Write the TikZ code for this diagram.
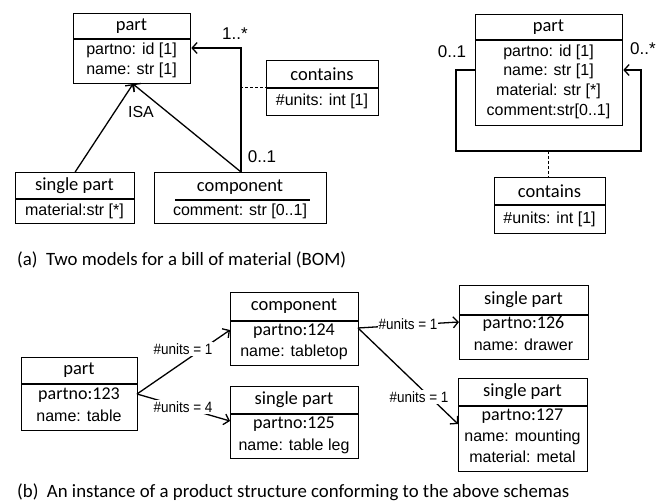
\documentclass[tikz,border=0pt]{standalone}
\usepackage{fontspec}
\setmainfont{Liberation Sans}
\newfontfamily\carl{Carlito}
\newfontfamily\ari{Liberation Sans}
\newfontfamily\arinar[FakeStretch=0.9]{Liberation Sans}
\usetikzlibrary{arrows.meta}
\begin{document}
\begin{tikzpicture}[x=1pt,y=-1pt,
  box/.style={draw,line width=1.3pt,inner sep=0pt,anchor=north west},
  hdr/.style={font=\carl\fontsize{18.5}{20}\selectfont,inner sep=0pt},
  att/.style={font=\ari\fontsize{16}{18}\selectfont,inner sep=0pt},
  pno/.style={font=\carl\fontsize{18}{20}\selectfont,inner sep=0pt},
  lbl/.style={font=\arinar\fontsize{15}{17}\selectfont,fill=white,inner sep=1pt},
  mult/.style={font=\ari\fontsize{17}{19}\selectfont,inner sep=0pt},
  captxt/.style={font=\carl\fontsize{18.8}{21}\selectfont,anchor=west,inner sep=0pt},
  conn/.style={line width=1.3pt,-{Straight Barb[length=5pt,width=11pt]}},
  sepl/.style={line width=1.3pt},
  dsh/.style={line width=1pt,dashed,dash pattern=on 3pt off 2pt},
]
\useasboundingbox (0,0) rectangle (665,502);

% ---------- (a) left model ----------
\node[box,minimum width=117pt,minimum height=70pt] (partA) at (73,13) {};
\draw[sepl] (73,39) -- (190,39);
\node[hdr] (partAh) at (131.5,26) {part};
\node[att] (partA1) at (131.5,50) {partno: id [1]};
\node[att] (partA2) at (131.5,70) {name: str [1]};

\node[box,minimum width=112pt,minimum height=55pt] (contA) at (266,60) {};
\draw[sepl] (266,88) -- (378,88);
\node[hdr] (contAh) at (322,74) {contains};
\node[att] (contA1) at (322,101) {\#units: int [1]};

\node[box,minimum width=119pt,minimum height=51pt] (spA) at (15,172) {};
\draw[sepl] (15,199) -- (134,199);
\node[hdr] (spAh) at (74.5,186) {single part};
\node[att] (spA1) at (74.5,211) {material:str [*]};

\node[box,minimum width=172pt,minimum height=51pt] (compA) at (154,172) {};
\node[hdr] (compAh) at (240,187) {component};
\draw[sepl] (175,200) -- (310,200);
\node[att] (compA1) at (240,211) {comment: str [0..1]};

\coordinate (isaA) at (133,84);
\coordinate (bendA) at (241,48);
\coordinate (startA) at (241,172);
\coordinate (dA) at (240,88);
\draw[conn] (spA.north) -- (isaA);
\draw[conn] (startA) -- (isaA);
\draw[conn] (startA) -- (bendA) -- (partA.east |- bendA);
\draw[dsh] (dA) -- (contA.west |- dA);
\node[att] (isalbl) at (141,112) {ISA};
\node[mult] (m1) at (235,34) {1..*};
\node[mult] (m2) at (262,157) {0..1};

% ---------- (a) right model ----------
\node[box,minimum width=147pt,minimum height=111pt] (partB) at (475,14) {};
\draw[sepl] (475,40) -- (622,40);
\node[hdr] (partBh) at (548.5,27) {part};
\node[att] (partB1) at (548.5,52) {partno: id [1]};
\node[att] (partB2) at (548.5,71) {name: str [1]};
\node[att] (partB3) at (548.5,91) {material: str [*]};
\node[att] (partB4) at (548.5,111) {comment:str[0..1]};

\coordinate (l1) at (456,70);
\coordinate (l2) at (456,151);
\coordinate (l3) at (641,151);
\coordinate (l4) at (641,70);
\coordinate (dB) at (548,151);
\draw[conn] (partB.west |- l1) -- (l1) -- (l2) -- (l3) -- (l4) -- (partB.east |- l4);

\node[box,minimum width=111pt,minimum height=56pt] (contB) at (494,177) {};
\draw[sepl] (494,205) -- (605,205);
\node[hdr] (contBh) at (549.5,191) {contains};
\node[att] (contB1) at (549.5,219) {\#units: int [1]};
\draw[dsh] (dB) -- (contB.north -| dB);
\node[mult] (m3) at (452,52) {0..1};
\node[mult] (m4) at (643,49) {0..*};

\node[captxt] (capA) at (17,260) {(a)\ \ Two models for a bill of material (BOM)};

% ---------- (b) instance ----------
\node[box,minimum width=116pt,minimum height=73pt] (partC) at (21,357) {};
\draw[sepl] (21,384) -- (137,384);
\node[hdr] (partCh) at (79,370) {part};
\node[pno] (partC1) at (79,395) {partno:123};
\node[att] (partC2) at (79,416) {name: table};

\node[box,minimum width=128pt,minimum height=73pt] (compC) at (230,292) {};
\draw[sepl] (230,321) -- (358,321);
\node[hdr] (compCh) at (294,306) {component};
\node[pno] (compC1) at (294,331) {partno:124};
\node[att] (compC2) at (294,352) {name: tabletop};

\node[box,minimum width=128pt,minimum height=72pt] (sp125) at (230,386) {};
\draw[sepl] (230,414) -- (358,414);
\node[hdr] (sp125h) at (294,400) {single part};
\node[pno] (sp1251) at (294,424) {partno:125};
\node[att] (sp1252) at (294,446) {name: table leg};

\node[box,minimum width=129pt,minimum height=74pt] (sp126) at (459,285) {};
\draw[sepl] (459,315) -- (588,315);
\node[hdr] (sp126h) at (523.5,300) {single part};
\node[pno] (sp1261) at (523.5,324) {partno:126};
\node[att] (sp1262) at (523.5,345) {name: drawer};

\node[box,minimum width=129pt,minimum height=93pt] (sp127) at (458,378) {};
\draw[sepl] (458,406) -- (587,406);
\node[hdr] (sp127h) at (522.5,392) {single part};
\node[pno] (sp1271) at (522.5,416) {partno:127};
\node[att] (sp1272) at (522.5,437) {name: mounting};
\node[att] (sp1273) at (522.5,457) {material: metal};

\coordinate (pC) at (137,394);
\coordinate (cC) at (358,328);
\coordinate (e1) at (230,330);
\coordinate (e4) at (230,421);
\coordinate (e5) at (459,322);
\coordinate (e6) at (458,424);
\draw[conn] (pC) -- (e1);
\draw[conn] (pC) -- (e4);
\draw[conn] (cC) -- (e5);
\draw[conn] (cC) -- (e6);
\node[lbl] (u1) at (183,349) {\#units = 1};
\node[lbl] (u4) at (183,407) {\#units = 4};
\node[lbl] (u5) at (408,324) {\#units = 1};
\node[lbl] (u6) at (419,397) {\#units = 1};

\node[captxt] (capB) at (17,492) {(b)\ \ An instance of a product structure conforming to the above schemas};
\end{tikzpicture}
\end{document}
